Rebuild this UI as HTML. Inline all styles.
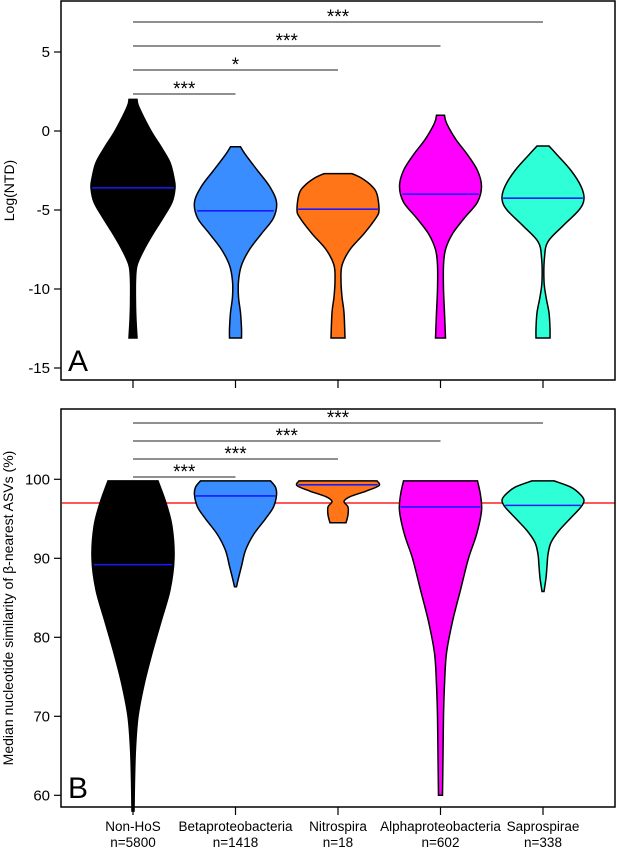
<!DOCTYPE html>
<html><head><meta charset="utf-8"><style>
body{margin:0;background:#fff}
svg{font-family:"Liberation Sans",Arial,sans-serif}
</style></head><body>
<svg id="chart" width="617" height="851" viewBox="0 0 617 851" xmlns="http://www.w3.org/2000/svg"></svg>
<script>
const categories=["Non-HoS","Betaproteobacteria","Nitrospira","Alphaproteobacteria","Saprospirae"];
const counts=["n=5800","n=1418","n=18","n=602","n=338"];
const colors=["#000000","#3a8dff","#ff7518","#ff00ff","#2effd6"];
const ticksA=[5,0,-5,-10,-15];
const ticksB=[100,90,80,70,60];
const mediansA=[-3.6,-5.05,-4.95,-4.0,-4.25];
const mediansB=[89.2,97.9,99.3,96.5,96.7];
const thresholdB=97;
const sigA=[{to:4,label:"***"},{to:3,label:"***"},{to:2,label:"*"},{to:1,label:"***"}];
const sigB=[{to:4,label:"***"},{to:3,label:"***"},{to:2,label:"***"},{to:1,label:"***"}];
const profA=[
 [[2,4],[1.5,6],[0,18],[-1,28],[-2,37],[-3,41],[-3.6,42],[-4.5,39],[-5.5,30],[-6.5,20],[-7.5,11],[-8.5,4],[-9.5,2.5],[-11,2.5],[-12,3],[-13.1,4]],
 [[-1,5],[-1.5,10],[-2.5,22],[-3.5,34],[-4.5,41],[-5.5,38],[-6.5,26],[-7.5,14],[-8.5,6],[-9.5,3],[-10.5,3],[-11.5,5],[-12.5,6],[-13.1,6]],
 [[-2.7,14],[-3,24],[-3.5,34],[-4,39],[-5,41],[-5.5,38],[-6.5,26],[-7.5,12],[-8.5,4],[-9.5,3],[-10.5,4],[-11.5,6],[-13.1,7]],
 [[1,4],[0.5,6],[-0.5,15],[-1.5,27],[-2.5,37],[-3.5,41],[-4.5,37],[-5.5,24],[-6.5,12],[-7.5,5],[-8.5,3],[-10,3],[-11.5,4],[-13.1,5]],
 [[-0.95,6],[-1.5,14],[-2.5,28],[-3.5,38],[-4.3,41],[-5,36],[-6,20],[-7,5],[-8,1.5],[-9.5,1],[-10.5,3],[-11.5,6],[-12.5,7],[-13.1,7]]
];
const profB=[
 [[99.8,25],[97,33],[94,39],[90,41],[86,37],[82,28],[78,19],[74,11],[70,5],[66,2.5],[62,1.5],[58,1]],
 [[99.8,35],[99,40],[98,41],[96.5,38],[95,30],[93,18],[91,10],[89,6],[87.5,3],[86.4,1]],
 [[99.8,39],[99.2,41],[98.5,28],[97.8,12],[97.2,6],[96.5,10],[95.5,10],[94.5,8]],
 [[99.8,37],[98,40],[96,41],[93,36],[90,28],[86,20],[82,12],[78,6],[74,4],[70,3],[65,2.5],[60,2]],
 [[99.8,11],[99,28],[98,38],[97.3,41],[96.5,38],[95,27],[93.5,16],[92,8],[90.5,5],[89,4],[87.5,3],[85.8,1]]
];
const svg=document.getElementById('chart');
const NS="http://www.w3.org/2000/svg";
function mk(tag,attrs,parent){const e=document.createElementNS(NS,tag);for(const k in attrs)e.setAttribute(k,attrs[k]);(parent||svg).appendChild(e);return e;}
const xCat=i=>133+i*102.5;
const panels=[
 {top:1,bottom:380,y:v=>131-15.8*v,ticks:ticksA,prof:profA,med:mediansA,sig:sigA,sigY:[22,46,70,94],letter:"A",title:"Log(NTD)",titleX:14},
 {top:409,bottom:807,y:v=>479.3+7.9*(100-v),ticks:ticksB,prof:profB,med:mediansB,sig:sigB,sigY:[423,441,459,477],letter:"B",title:"Median nucleotide similarity of β-nearest ASVs (%)",titleX:13}
];
function smooth(pts){let d="";for(let i=0;i<pts.length-1;i++){const p0=pts[Math.max(0,i-1)],p1=pts[i],p2=pts[i+1],p3=pts[Math.min(pts.length-1,i+2)];
 const c1=[p1[0]+(p2[0]-p0[0])/6,p1[1]+(p2[1]-p0[1])/6],c2=[p2[0]-(p3[0]-p1[0])/6,p2[1]-(p3[1]-p1[1])/6];
 d+=` C${c1[0]},${c1[1]} ${c2[0]},${c2[1]} ${p2[0]},${p2[1]}`;}return d;}
panels.forEach((P,pi)=>{
 const g=mk('g',{});
 
 
 if(pi===1){const r=mk('line',{x1:62,x2:615,y1:P.y(thresholdB),y2:P.y(thresholdB),stroke:'#ff2020','stroke-width':1.5},g);
  }
 P.prof.forEach((pr,i)=>{
  const cx=xCat(i);
  const right=pr.map(p=>[cx+p[1],P.y(p[0])]);
  const left=pr.slice().reverse().map(p=>[cx-p[1],P.y(p[0])]);
  let d=`M${cx-pr[0][1]},${P.y(pr[0][0])} L${right[0][0]},${right[0][1]}`+smooth(right)+` L${left[0][0]},${left[0][1]}`+smooth(left)+"Z";
  const v=mk('path',{d:d,fill:colors[i],stroke:'#000','stroke-width':1.5},g);
  
  
  const m=P.med[i];let hw=40;
  for(let k=0;k<pr.length-1;k++){const a=pr[k],b=pr[k+1];if((m<=a[0]&&m>=b[0])){hw=a[1]+(b[1]-a[1])*(m-a[0])/(b[0]-a[0]);}}
  const ml=mk('line',{x1:cx-hw+1,x2:cx+hw-1,y1:P.y(m),y2:P.y(m),stroke:'#1a1aff','stroke-width':1.6},g);
  
  
 });
 P.sig.forEach((s,k)=>{
  const y=P.sigY[k];
  const l=mk('line',{x1:xCat(0),x2:xCat(s.to),y1:y,y2:y,stroke:'#222','stroke-width':1.1},g);
  
  const t=mk('text',{x:(xCat(0)+xCat(s.to))/2,y:y+1,'text-anchor':'middle','font-size':19},g);
  t.textContent=s.label;
 });
 const box=mk('rect',{x:61,y:P.top,width:554,height:P.bottom-P.top,fill:'none',stroke:'#000','stroke-width':1.5},g);
 
 P.ticks.forEach(tv=>{
  const y=P.y(tv);
  mk('line',{x1:54,x2:61,y1:y,y2:y,stroke:'#000','stroke-width':1.2},g);
  const t=mk('text',{x:50,y:y+5,'text-anchor':'end','font-size':15},g);
  t.textContent=tv;
 });
 categories.forEach((c,i)=>mk('line',{x1:xCat(i),x2:xCat(i),y1:P.bottom,y2:P.bottom+8,stroke:'#000','stroke-width':1.2},g));
 const L=mk('text',{x:68,y:P.bottom-9,'font-size':30},g);L.textContent=P.letter;
 
 const cy=(P.top+P.bottom)/2;
 const T=mk('text',{x:P.titleX,y:cy,'text-anchor':'middle','font-size':14,transform:`rotate(-90 ${P.titleX} ${cy})`},g);
 T.textContent=P.title;
});
categories.forEach((c,i)=>{
 const t=mk('text',{x:xCat(i),y:831,'text-anchor':'middle','font-size':13.5});t.textContent=c;
 
 const n=mk('text',{x:xCat(i),y:847,'text-anchor':'middle','font-size':13.5});n.textContent=counts[i];
 
});
</script>
</body></html>
